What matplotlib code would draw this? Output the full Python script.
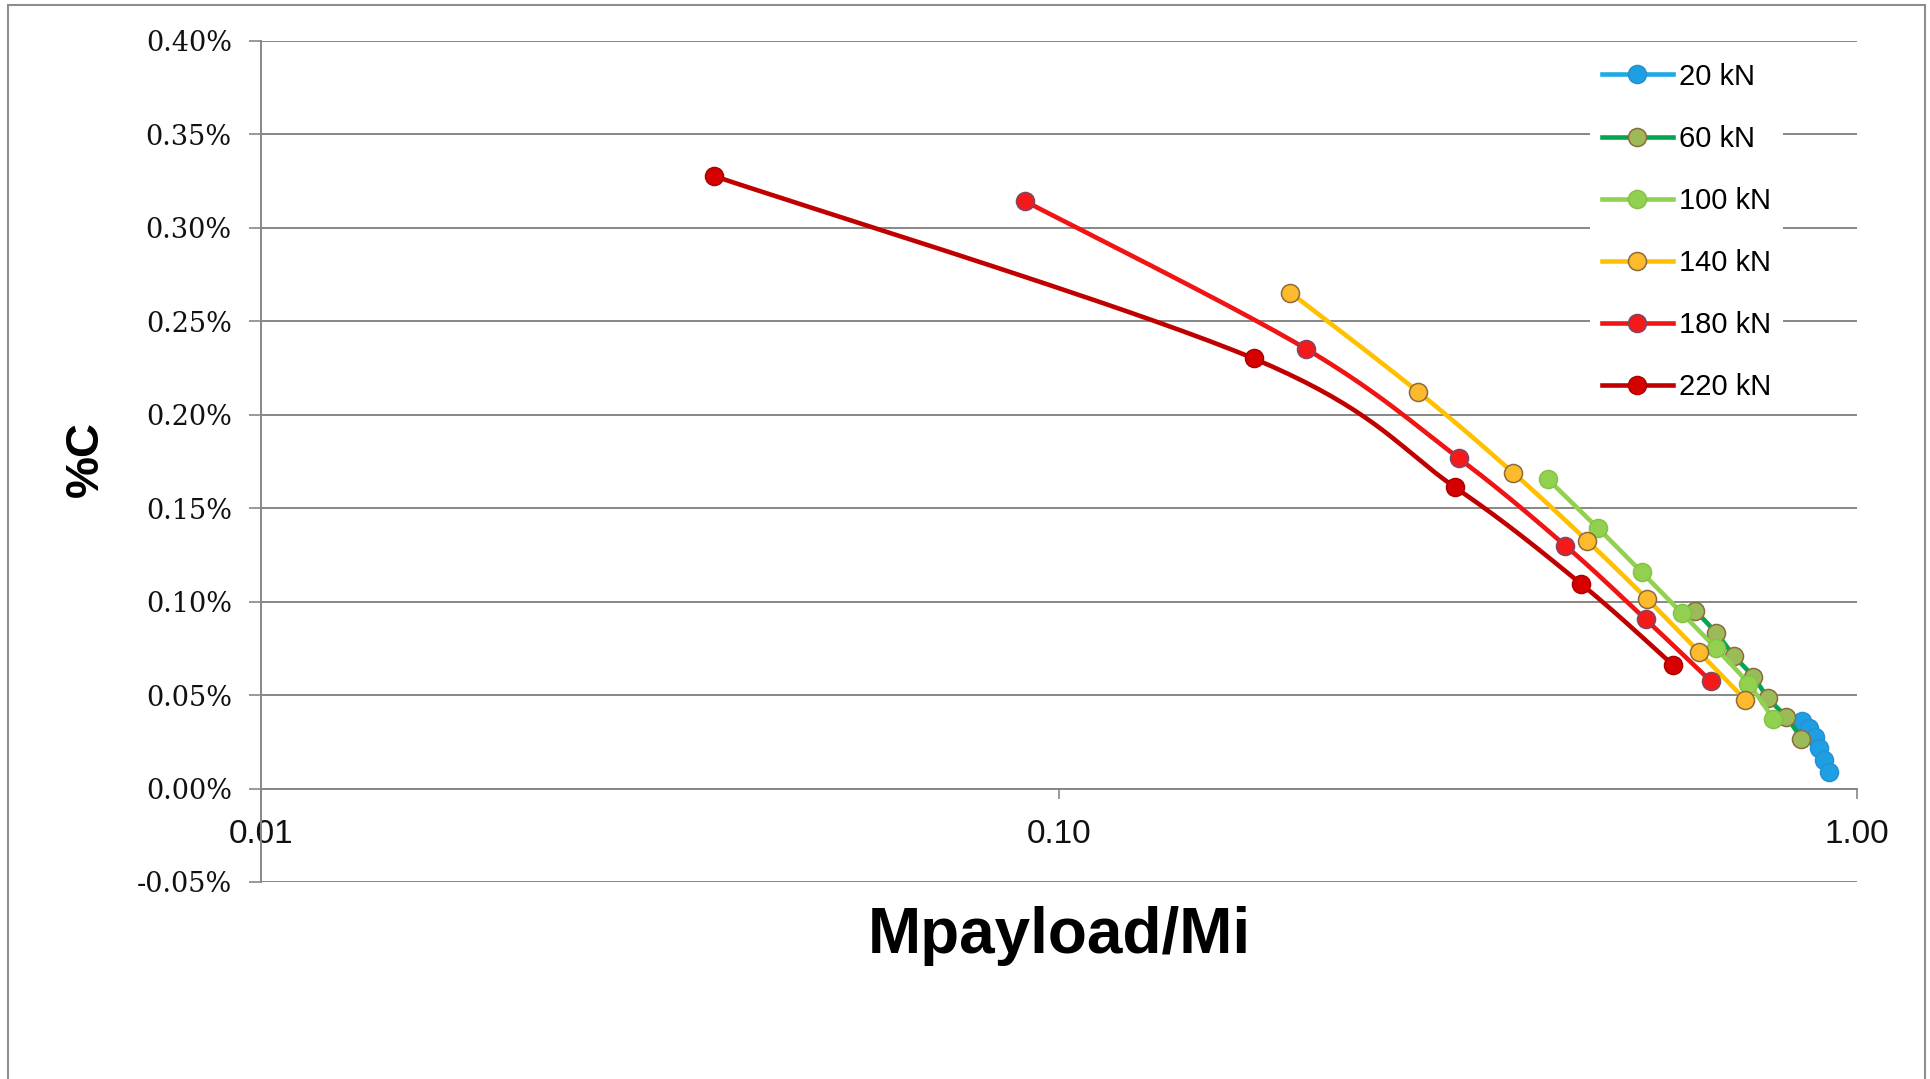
import numpy as np
import matplotlib
matplotlib.use('Agg')
import matplotlib.pyplot as plt
from matplotlib.lines import Line2D
from matplotlib.patches import Rectangle
from matplotlib.ticker import FuncFormatter, NullLocator

# ---------------- data (x: Mpayload/Mi, y: %C) ----------------
labels = ['20 kN', '60 kN', '100 kN', '140 kN', '180 kN', '220 kN']

x_20 = [0.853, 0.870, 0.886, 0.896, 0.909, 0.922]
y_20 = [0.0360, 0.0322, 0.0274, 0.0215, 0.0151, 0.0087]

x_60 = [0.627, 0.666, 0.702, 0.741, 0.773, 0.815, 0.852]
y_60 = [0.0952, 0.0832, 0.0707, 0.0599, 0.0485, 0.0383, 0.0267]

x_100 = [0.410, 0.474, 0.537, 0.603, 0.666, 0.731, 0.785]
y_100 = [0.1654, 0.1391, 0.1158, 0.0939, 0.0749, 0.0561, 0.0374]

x_140 = [0.195, 0.282, 0.371, 0.459, 0.545, 0.634, 0.724]
y_140 = [0.2652, 0.2121, 0.1688, 0.1325, 0.1016, 0.0730, 0.0476]

x_180 = [0.0906, 0.2037, 0.3173, 0.4311, 0.5437, 0.6555]
y_180 = [0.3142, 0.2353, 0.1765, 0.1299, 0.0904, 0.0575]

x_220 = [0.0370, 0.1753, 0.3133, 0.4515, 0.5885]
y_220 = [0.3275, 0.2300, 0.1612, 0.1093, 0.0659]

x_ticks = [0.01, 0.1, 1.0]
x_tick_labels = ['0.01', '0.10', '1.00']
y_ticks = [-0.05, 0.0, 0.05, 0.10, 0.15, 0.20, 0.25, 0.30, 0.35, 0.40]

series_x = [x_20, x_60, x_100, x_140, x_180, x_220]
series_y = [y_20, y_60, y_100, y_140, y_180, y_220]

# styles
line_colors = ['#1FA9E6', '#00A651', '#92D050', '#FFC000', '#F01414', '#C00000']
face_colors = ['#1E9FE3', '#9BBB59', '#92D050', '#FDBA2C', '#F41A1A', '#D60000']
edge_colors = ['#2A8FD0', '#8C6A3C', '#84C244', '#8C6A3C', '#7A4A6A', '#B00000']


def smooth(xs, ys, n=40):
    """Excel-like smoothed line (Catmull-Rom style Bezier) in log-x space."""
    Q = np.column_stack([np.log10(xs), np.asarray(ys, float)])
    out = [Q[0]]
    t = np.linspace(0, 1, n)[1:, None]
    for i in range(len(Q) - 1):
        p0 = Q[i - 1] if i > 0 else Q[i]
        p3 = Q[i + 2] if i + 2 < len(Q) else Q[i + 1]
        c1 = Q[i] + (Q[i + 1] - p0) / 6.0
        c2 = Q[i + 1] - (p3 - Q[i]) / 6.0
        B = ((1 - t) ** 3) * Q[i] + 3 * ((1 - t) ** 2) * t * c1 \
            + 3 * (1 - t) * t ** 2 * c2 + t ** 3 * Q[i + 1]
        out.extend(B)
    out = np.array(out)
    return 10 ** out[:, 0], out[:, 1]


W, H = 1931, 1079
fig = plt.figure(figsize=(W / 100, H / 100), dpi=100)
fig.patch.set_facecolor('white')

# chart-area border
fig.patches.append(Rectangle((8 / W, -0.02), (1925 - 8) / W, 1 - 5 / H + 0.02,
                             transform=fig.transFigure, fill=False,
                             edgecolor='#8E8E8E', lw=1.5, zorder=0))

ax = fig.add_axes([261 / W, 1 - 882 / H, (1857 - 261) / W, (882 - 40.6) / H])
ax.set_xscale('log')
ax.set_xlim(0.01, 1.0)
ax.set_ylim(-0.05, 0.40)

grid_col = '#878787'
ax.set_yticks(y_ticks)
ax.yaxis.set_major_formatter(FuncFormatter(lambda v, _: f'{v:.2f}%'))
ax.yaxis.grid(True, color=grid_col, lw=1.4, zorder=0)
ax.set_axisbelow(True)

ax.set_xticks(x_ticks)
ax.set_xticklabels(x_tick_labels)
ax.xaxis.set_minor_locator(NullLocator())

for s in ['top', 'right']:
    ax.spines[s].set_visible(False)
ax.spines['bottom'].set_position(('data', 0))
ax.spines['bottom'].set_color(grid_col)
ax.spines['bottom'].set_linewidth(1.4)
ax.spines['left'].set_color(grid_col)
ax.spines['left'].set_linewidth(1.4)

ax.tick_params(axis='y', direction='out', length=9, width=1.2, color=grid_col,
               pad=12, labelsize=19.5, labelcolor='#111111')
ax.tick_params(axis='x', direction='out', length=7, width=1.2, color=grid_col,
               pad=15, labelsize=24, labelcolor='#111111')
for lab in ax.get_yticklabels():
    lab.set_family(['DejaVu Serif'])
for lab in ax.get_xticklabels():
    lab.set_family(['Liberation Sans Narrow', 'Liberation Sans'])

LW, MS = 3.3, 13
handles = []
for i, (xs, ys) in enumerate(zip(series_x, series_y)):
    sx, sy = smooth(xs, ys)
    ax.plot(sx, sy, color=line_colors[i], lw=LW, zorder=3 + i * 0.1,
            solid_capstyle='round')
    ax.plot(xs, ys, ls='none', marker='o', ms=MS, mfc=face_colors[i],
            mec=edge_colors[i], mew=1.1, zorder=3.05 + i * 0.1)
    handles.append(Line2D([], [], color=line_colors[i], lw=LW, marker='o',
                          ms=MS, mfc=face_colors[i], mec=edge_colors[i],
                          mew=1.1))

leg = ax.legend(handles, labels, loc='upper left',
                bbox_to_anchor=(1590 / W, 1 - 51 / H),
                bbox_transform=fig.transFigure, borderaxespad=0,
                frameon=True, fancybox=False, edgecolor='none',
                facecolor='white', framealpha=1.0, borderpad=0.4,
                labelspacing=1.17, handlelength=2.45, handletextpad=0.2,
                prop={'family': ['Liberation Sans'], 'size': 21})
leg.set_zorder(10)

fig.text(1059 / W, 1 - 936 / H, 'Mpayload/Mi', ha='center', va='center',
         fontsize=46, fontweight='bold', family=['Liberation Sans'])
fig.text(86 / W, 1 - 459 / H, '%C', ha='center', va='center', rotation=90,
         fontsize=34, fontweight='bold', family=['Liberation Sans'])

fig.savefig('out.png', dpi=100, facecolor='white')
